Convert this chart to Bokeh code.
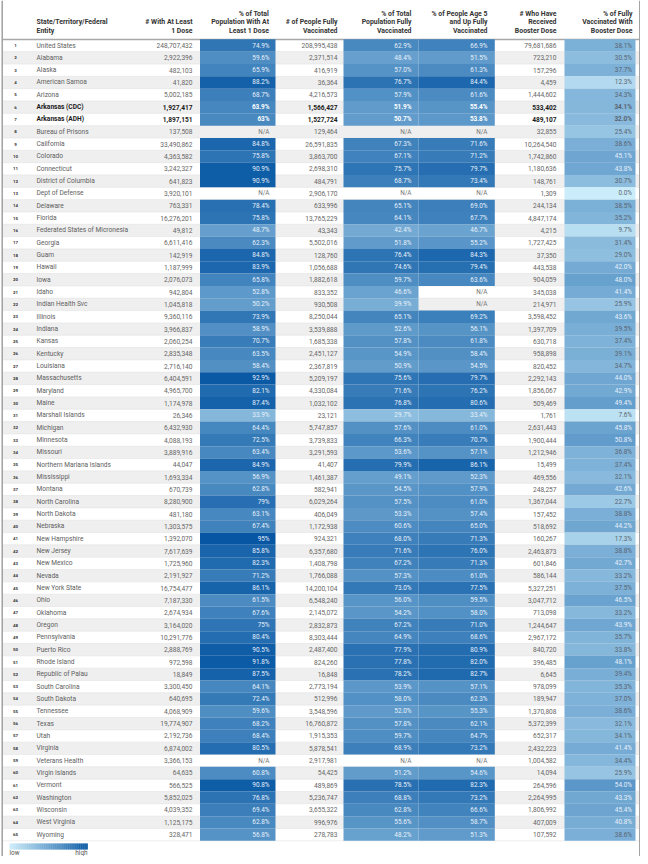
import math
import numpy as np
from bokeh.plotting import figure
from bokeh.models import ColumnDataSource, Range1d, LinearColorMapper
from bokeh.transform import transform
from bokeh.core.properties import value
from bokeh.embed import file_html
from bokeh.resources import INLINE

NA = float("nan")

entities = [
    "United States", "Alabama", "Alaska", "American Samoa", "Arizona",
    "Arkansas (CDC)", "Arkansas (ADH)", "Bureau of Prisons", "California", "Colorado",
    "Connecticut", "District of Columbia", "Dept of Defense", "Delaware", "Florida",
    "Federated States of Micronesia", "Georgia", "Guam", "Hawaii", "Iowa",
    "Idaho", "Indian Health Svc", "Illinois", "Indiana", "Kansas",
    "Kentucky", "Louisiana", "Massachusetts", "Maryland", "Maine",
    "Marshall Islands", "Michigan", "Minnesota", "Missouri", "Northern Mariana Islands",
    "Mississippi", "Montana", "North Carolina", "North Dakota", "Nebraska",
    "New Hampshire", "New Jersey", "New Mexico", "Nevada", "New York State",
    "Ohio", "Oklahoma", "Oregon", "Pennsylvania", "Puerto Rico",
    "Rhode Island", "Republic of Palau", "South Carolina", "South Dakota", "Tennessee",
    "Texas", "Utah", "Virginia", "Veterans Health", "Virgin Islands",
    "Vermont", "Washington", "Wisconsin", "West Virginia", "Wyoming",
]

dose1 = [
    248707432, 2922396, 482103, 41820, 5002185,
    1927417, 1897151, 137508, 33490862, 4363582,
    3242327, 641823, 3920101, 763331, 16276201,
    49812, 6611416, 142919, 1187999, 2076073,
    942804, 1045818, 9360116, 3966837, 2060254,
    2835348, 2716140, 6404591, 4965700, 1174978,
    26346, 6432930, 4088193, 3889916, 44047,
    1693334, 670739, 8280900, 481180, 1303575,
    1392070, 7617639, 1725960, 2191927, 16754477,
    7187330, 2674934, 3164020, 10291776, 2888769,
    972598, 18849, 3300450, 640695, 4068909,
    19774907, 2192736, 6874002, 3366153, 64635,
    566525, 5852025, 4039352, 1125175, 328471,
]

pct_dose1 = [
    74.9, 59.6, 65.9, 88.2, 68.7,
    63.9, 63, NA, 84.8, 75.8,
    90.9, 90.9, NA, 78.4, 75.8,
    48.7, 62.3, 84.8, 83.9, 65.8,
    52.8, 50.2, 73.9, 58.9, 70.7,
    63.5, 58.4, 92.9, 82.1, 87.4,
    33.9, 64.4, 72.5, 63.4, 84.9,
    56.9, 62.8, 79, 63.1, 67.4,
    95, 85.8, 82.3, 71.2, 86.1,
    61.5, 67.6, 75, 80.4, 90.5,
    91.8, 87.5, 64.1, 72.4, 59.6,
    68.2, 68.4, 80.5, NA, 60.8,
    90.8, 76.8, 69.4, 62.8, 56.8,
]

fully = [
    208995438, 2371514, 416919, 36364, 4216573,
    1566427, 1527724, 129464, 26591835, 3863700,
    2698310, 484791, 2906170, 633996, 13765229,
    43343, 5502016, 128760, 1056688, 1882618,
    833352, 930508, 8250044, 3539888, 1685338,
    2451127, 2367819, 5209197, 4330084, 1032102,
    23121, 5747857, 3739833, 3291593, 41407,
    1461387, 582941, 6029264, 406049, 1172938,
    924321, 6357680, 1408798, 1766088, 14200104,
    6548240, 2145072, 2832873, 8303444, 2487400,
    824260, 16848, 2773194, 512996, 3548596,
    16760872, 1915353, 5878541, 2917981, 54425,
    489869, 5236747, 3655322, 996976, 278783,
]

pct_fully = [
    62.9, 48.4, 57.0, 76.7, 57.9,
    51.9, 50.7, NA, 67.3, 67.1,
    75.7, 68.7, NA, 65.1, 64.1,
    42.4, 51.8, 76.4, 74.6, 59.7,
    46.6, 39.9, 65.1, 52.6, 57.8,
    54.9, 50.9, 75.6, 71.6, 76.8,
    29.7, 57.6, 66.3, 53.6, 79.9,
    49.1, 54.5, 57.5, 53.3, 60.6,
    68.0, 71.6, 67.2, 57.3, 73.0,
    56.0, 54.2, 67.2, 64.9, 77.9,
    77.8, 78.2, 53.9, 58.0, 52.0,
    57.8, 59.7, 68.9, NA, 51.2,
    78.5, 68.8, 62.8, 55.6, 48.2,
]

pct_fully_5up = [
    66.9, 51.5, 61.3, 84.4, 61.6,
    55.4, 53.8, NA, 71.6, 71.2,
    79.7, 73.4, NA, 69.0, 67.7,
    46.7, 55.2, 84.3, 79.4, 63.6,
    NA, NA, 69.2, 56.1, 61.8,
    58.4, 54.5, 79.7, 76.2, 80.6,
    33.4, 61.0, 70.7, 57.1, 86.1,
    52.3, 57.9, 61.0, 57.4, 65.0,
    71.3, 76.0, 71.3, 61.0, 77.5,
    59.5, 58.0, 71.0, 68.6, 80.9,
    82.0, 82.7, 57.1, 62.3, 55.3,
    62.1, 64.7, 73.2, NA, 54.6,
    82.3, 73.2, 66.6, 58.7, 51.3,
]

booster = [
    79681686, 723210, 157296, 4459, 1444602,
    533402, 489107, 32855, 10264540, 1742860,
    1180636, 148761, 1309, 244134, 4847174,
    4215, 1727425, 37350, 443538, 904059,
    345038, 214971, 3598452, 1397709, 630718,
    958898, 820452, 2292143, 1856067, 509469,
    1761, 2631443, 1900444, 1212946, 15499,
    469556, 248257, 1367044, 157452, 518692,
    160267, 2463873, 601846, 586144, 5327251,
    3047712, 713098, 1244647, 2967172, 840720,
    396485, 6645, 978099, 189947, 1370808,
    5372399, 652317, 2432223, 1004582, 14094,
    264596, 2264995, 1806992, 407009, 107592,
]

pct_booster = [
    38.1, 30.5, 37.7, 12.3, 34.3,
    34.1, 32.0, 25.4, 38.6, 45.1,
    43.8, 30.7, 0.0, 38.5, 35.2,
    9.7, 31.4, 29.0, 42.0, 48.0,
    41.4, 25.9, 43.6, 39.5, 37.4,
    39.1, 34.7, 44.0, 42.9, 49.4,
    7.6, 45.8, 50.8, 36.8, 37.4,
    32.1, 42.6, 22.7, 38.8, 44.2,
    17.3, 38.8, 42.7, 33.2, 37.5,
    46.5, 33.2, 43.9, 35.7, 33.8,
    48.1, 39.4, 35.3, 37.0, 38.6,
    32.1, 34.1, 41.4, 34.4, 25.9,
    54.0, 43.3, 45.4, 40.8, 38.6,
]

bold_entities = ["Arkansas (CDC)", "Arkansas (ADH)"]

header_entity = ["State/Territory/Federal", "Entity"]
header_dose1 = ["# With At Least", "1 Dose"]
header_pct_dose1 = ["% of Total", "Population With At", "Least 1 Dose"]
header_fully = ["# of People Fully", "Vaccinated"]
header_pct_fully = ["% of Total", "Population Fully", "Vaccinated"]
header_pct_5up = ["% of People Age 5", "and Up Fully", "Vaccinated"]
header_booster = ["# Who Have", "Received", "Booster Dose"]
header_pct_booster = ["% of Fully", "Vaccinated With", "Booster Dose"]
legend_labels = ["low", "high"]

# ---------------------------------------------------------------- styling
FONT = value("Roboto")
ROW0 = 45.0
ROW_H = 12.33
LOW_RGB = (203, 237, 250)
HIGH_RGB = (6, 86, 163)
SCALE_LOW, SCALE_HIGH = 0.0, 95.0
W, H = 640, 856
XL, XR = 2.5, 638.5


def interp_palette(n=256):
    pal = []
    for i in range(n):
        t = i / (n - 1)
        r = round(LOW_RGB[0] + (HIGH_RGB[0] - LOW_RGB[0]) * t)
        g = round(LOW_RGB[1] + (HIGH_RGB[1] - LOW_RGB[1]) * t)
        b = round(LOW_RGB[2] + (HIGH_RGB[2] - LOW_RGB[2]) * t)
        pal.append("#%02x%02x%02x" % (r, g, b))
    return pal


mapper = LinearColorMapper(palette=interp_palette(), low=SCALE_LOW, high=SCALE_HIGH,
                           nan_color="rgba(0,0,0,0)")

p = figure(width=W, height=H, x_range=Range1d(0, W), y_range=Range1d(H, 0),
           output_backend="svg", toolbar_location=None, min_border=0,
           x_axis_location=None, y_axis_location=None)
p.xgrid.visible = False
p.ygrid.visible = False
p.outline_line_color = None
p.background_fill_color = "white"
p.border_fill_color = "white"

n = len(entities)
ys = [ROW0 + i * ROW_H for i in range(n)]
is_bold = [e in bold_entities for e in entities]

# alternating row background
even = [i for i in range(n) if i % 2 == 1]
p.quad(left=XL, right=XR, top=[ys[i] - ROW_H / 2 for i in even],
       bottom=[ys[i] + ROW_H / 2 for i in even], fill_color="#efefef", line_color=None)
# row separators
p.segment(x0=XL, x1=XR, y0=[y + ROW_H / 2 for y in ys], y1=[y + ROW_H / 2 for y in ys],
          line_color="#e2e2e2", line_width=0.6)

# header rule
p.segment(x0=[XL], x1=[XR], y0=[39], y1=[39], line_color="#a8a8a8", line_width=1.6)
# frame lines
p.segment(x0=[XL - 0.8, XR + 0.8], x1=[XL - 0.8, XR + 0.8], y0=[0, 0], y1=[H, H],
          line_color="#9a9a9a", line_width=1.4)

# row numbers and entity names
src_names = ColumnDataSource(dict(
    y=ys, num=[str(i + 1) for i in range(n)], name=entities,
    style=["bold" if b else "normal" for b in is_bold],
    color=["#1a1a1a" if b else "#606060" for b in is_bold],
))
p.text(x=15, y="y", text="num", source=src_names, text_font=FONT, text_font_size="4.4px",
       text_font_style="bold", text_color="#333333", text_align="center", text_baseline="middle")
p.text(x=36, y="y", text="name", source=src_names, text_font=FONT, text_font_size="6.6px",
       text_font_style="style", text_color="color", text_align="left", text_baseline="middle")

# plain number columns
for vals, xr in [(dose1, 192), (fully, 337), (booster, 556)]:
    src = ColumnDataSource(dict(
        y=ys, label=[f"{v:,}" for v in vals],
        style=["bold" if b else "normal" for b in is_bold],
        color=["#1a1a1a" if b else "#666666" for b in is_bold],
    ))
    p.text(x=xr, y="y", text="label", source=src, text_font=FONT, text_font_size="6.6px",
           text_font_style="style", text_color="color", text_align="right", text_baseline="middle")


def fmt_pct(v, short):
    if isinstance(v, float) and math.isnan(v):
        return "N/A"
    return (f"{v:g}%" if short else f"{v:.1f}%")


# heat-mapped percentage columns: (values, cell left, cell right, text x, short fmt, dark-text below)
for vals, xl, xr, xt, short, dark_below in [
    (pct_dose1, 199.5, 275, 269, True, 0),
    (pct_fully, 343, 418, 411, False, 0),
    (pct_fully_5up, 418, 494.3, 487, False, 0),
    (pct_booster, 564, 635, 631.5, False, 40),
]:
    colors = []
    for v, b in zip(vals, is_bold):
        if isinstance(v, float) and math.isnan(v):
            colors.append("#777777")
        elif v < dark_below:
            colors.append("#5a6470")
        else:
            colors.append("#ffffff" if b else "#e8f1fa")
    src = ColumnDataSource(dict(
        y=ys, top=[y - ROW_H / 2 for y in ys], bottom=[y + ROW_H / 2 for y in ys],
        v=vals, label=[fmt_pct(v, short) for v in vals],
        style=["bold" if b else "normal" for b in is_bold], color=colors,
    ))
    p.quad(left=xl, right=xr, top="top", bottom="bottom", source=src,
           fill_color=transform("v", mapper), line_color=None)
    p.text(x=xt, y="y", text="label", source=src, text_font=FONT, text_font_size="6.4px",
           text_font_style="style", text_color="color", text_align="right", text_baseline="middle")

# headers
HEAD_Y = {2: [21.7, 30.2], 3: [13.6, 21.9, 30.2]}
for lines, x, align in [
    (header_entity, 36, "left"),
    (header_dose1, 192, "right"),
    (header_pct_dose1, 268.5, "right"),
    (header_fully, 337, "right"),
    (header_pct_fully, 411, "right"),
    (header_pct_5up, 487, "right"),
    (header_booster, 556, "right"),
    (header_pct_booster, 632, "right"),
]:
    p.text(x=x, y=HEAD_Y[len(lines)], text=lines, text_font=FONT, text_font_size="6.9px",
           text_font_style="bold", text_color="#333333", text_align=align, text_baseline="middle")

# legend gradient (thin strips through the same colour mapper)
steps = np.linspace(SCALE_LOW, SCALE_HIGH, 120)
step_w = 78 / len(steps)
grad_src = ColumnDataSource(dict(
    v=list(steps),
    left=[9 + i * step_w for i in range(len(steps))],
    right=[9 + (i + 1) * step_w + 0.3 for i in range(len(steps))],
))
p.quad(left="left", right="right", top=843, bottom=849, source=grad_src,
       fill_color=transform("v", mapper), line_color=None)
p.text(x=[9], y=[852.5], text=[legend_labels[0]], text_font=FONT, text_font_size="6.4px",
       text_color="#555555", text_align="left", text_baseline="middle")
p.text(x=[87], y=[852.5], text=[legend_labels[1]], text_font=FONT, text_font_size="6.4px",
       text_color="#555555", text_align="right", text_baseline="middle")

open("out.html", "w").write(file_html(p, INLINE))
